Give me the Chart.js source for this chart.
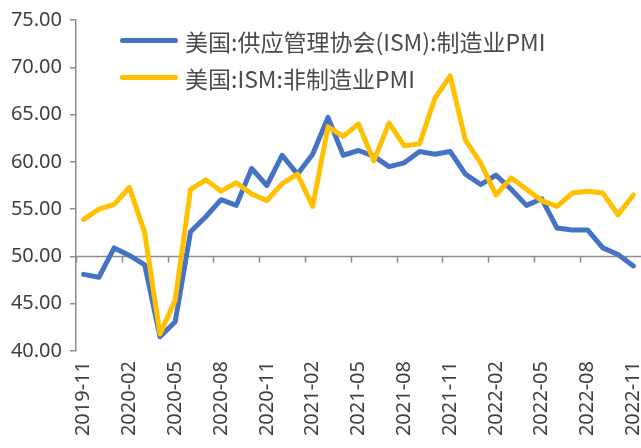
<!DOCTYPE html>
<html>
<head>
<meta charset="utf-8">
<script src="https://cdn.jsdelivr.net/npm/chart.js@4"></script>
<style>
  html, body { margin: 0; padding: 0; background: #fff; }
  #wrap { position: relative; width: 641px; height: 448px; }
  #legend { position: absolute; left: 120px; top: 22px; font: 23px "Noto Sans CJK SC", sans-serif; color: #4a4a4a; white-space: nowrap; }
  #legend .item { display: flex; align-items: center; height: 37px; }
  #legend .swatch { width: 58px; height: 5px; border-radius: 3px; margin-right: 7px; flex: none; }
</style>
</head>
<body>
<div id="wrap">
  <canvas id="chart" width="641" height="448"></canvas>
  <div id="legend"></div>
</div>
<script>
const labels = [
    '2019-11', '2019-12', '2020-01', '2020-02', '2020-03', '2020-04', '2020-05', '2020-06', '2020-07', '2020-08',
    '2020-09', '2020-10', '2020-11', '2020-12', '2021-01', '2021-02', '2021-03', '2021-04', '2021-05', '2021-06',
    '2021-07', '2021-08', '2021-09', '2021-10', '2021-11', '2021-12', '2022-01', '2022-02', '2022-03', '2022-04',
    '2022-05', '2022-06', '2022-07', '2022-08', '2022-09', '2022-10', '2022-11'
];
const manufacturing = [
    48.1, 47.8, 50.9, 50.1, 49.1, 41.5, 43.1, 52.6, 54.2, 56.0,
    55.4, 59.3, 57.5, 60.7, 58.7, 60.8, 64.7, 60.7, 61.2, 60.6,
    59.5, 59.9, 61.1, 60.8, 61.1, 58.7, 57.6, 58.6, 57.1, 55.4,
    56.1, 53.0, 52.8, 52.8, 50.9, 50.2, 49.0
];
const services = [
    53.9, 55.0, 55.5, 57.3, 52.5, 41.8, 45.4, 57.1, 58.1, 56.9,
    57.8, 56.6, 55.9, 57.7, 58.7, 55.3, 63.7, 62.7, 64.0, 60.1,
    64.1, 61.7, 61.9, 66.7, 69.1, 62.3, 59.9, 56.5, 58.3, 57.1,
    55.9, 55.3, 56.7, 56.9, 56.7, 54.4, 56.5
];
const seriesNames = ['美国:供应管理协会(ISM):制造业PMI', '美国:ISM:非制造业PMI'];
const seriesColors = ['#4472C4', '#FFC000'];

const axisGray = '#8c8c8c';
const textColor = '#404040';
const font = { family: '"Noto Sans", "Noto Sans CJK SC", sans-serif', size: 20 };

// horizontal axis line sits at 50, with tick marks every 3 months
const midAxis = {
    id: 'midAxis',
    beforeDatasetsDraw(chart) {
        const { ctx, chartArea, scales: { x, y } } = chart;
        const yy = Math.round(y.getPixelForValue(50)) + 0.5;
        const half = (x.getPixelForValue(1) - x.getPixelForValue(0)) / 2;
        ctx.save();
        ctx.strokeStyle = axisGray;
        ctx.lineWidth = 1.5;
        ctx.beginPath();
        ctx.moveTo(chartArea.left, yy);
        ctx.lineTo(chartArea.right, yy);
        for (let i = 0; i < labels.length; i += 3) {
            const xx = Math.round(x.getPixelForValue(i) - half) + 0.5;
            ctx.moveTo(xx, yy);
            ctx.lineTo(xx, yy + 6);
        }
        ctx.stroke();
        ctx.restore();
    }
};

const ctx = document.getElementById('chart').getContext('2d');
const chart = new Chart(ctx, {
    type: 'line',
    data: {
        labels: labels,
        datasets: [
            { label: seriesNames[0], data: manufacturing, borderColor: seriesColors[0], order: 1 },
            { label: seriesNames[1], data: services, borderColor: seriesColors[1], order: 0 }
        ]
    },
    options: {
        responsive: false,
        animation: false,
        layout: { padding: { top: 20, right: 0, left: 0, bottom: 0 } },
        elements: {
            line: { borderWidth: 5, tension: 0, borderCapStyle: 'round', borderJoinStyle: 'round' },
            point: { radius: 0 }
        },
        plugins: {
            legend: { display: false },
            tooltip: { enabled: false }
        },
        scales: {
            x: {
                offset: true,
                grid: { display: false, drawTicks: false },
                border: { display: false },
                ticks: {
                    autoSkip: false,
                    minRotation: 90,
                    maxRotation: 90,
                    padding: 10,
                    color: textColor,
                    font: font,
                    callback: (v, i) => (i % 3 === 0 ? labels[i] : '')
                },
                afterFit(scale) {
                    scale.height = 97;
                    scale.paddingLeft = 0;
                    scale.paddingRight = 0;
                }
            },
            y: {
                min: 40,
                max: 75,
                grid: { drawOnChartArea: false, color: axisGray, tickLength: 6, lineWidth: 1.5 },
                border: { color: axisGray, width: 1.5 },
                ticks: {
                    stepSize: 5,
                    padding: 8,
                    color: textColor,
                    font: font,
                    callback: v => v.toFixed(2)
                },
                afterFit(scale) {
                    scale.width = 76;
                }
            }
        }
    },
    plugins: [midAxis]
});

// legend drawn as html inside the plot area
document.getElementById('legend').innerHTML = chart.data.datasets.map(ds =>
    '<div class="item"><span class="swatch" style="background:' + ds.borderColor + '"></span><span>' + ds.label + '</span></div>'
).join('');
</script>
</body>
</html>
